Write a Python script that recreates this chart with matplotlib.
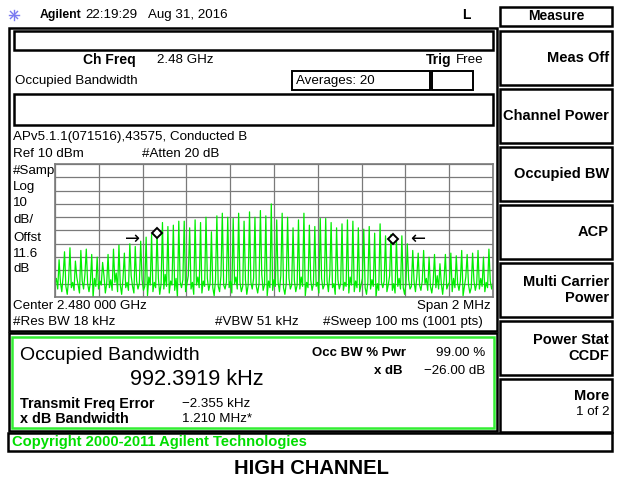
import numpy as np
import matplotlib.pyplot as plt
from matplotlib.patches import Rectangle

W, H = 621, 486

# spectrum (dBm); one level per spectral line, left to right
line_peaks_dbm = [
    -62, -56, -53, -63, -55, -54, -58, -60, -64, -58,
    -54, -51, -57, -50, -52, -48, -45, -43, -41, -34,
    -37, -36, -33, -33, -38, -32, -34, -30, -41, -29,
    -27, -30, -31, -27, -33, -26, -30, -25, -29, -20,
    -32, -27, -30, -38, -32, -27, -36, -37, -31, -31,
    -34, -38, -35, -32, -33, -38, -39, -37, -42, -35,
    -44, -43, -46, -44, -50, -55, -57, -55, -60, -58,
    -65, -58, -57, -59, -55, -58, -57, -55, -60, -54,
]
# noise floor between the lines (3 readings per gap, plus 3 after the last line)
floor_dbm = [
    -80, -76, -84, -79, -86, -74, -82, -88, -77, -83, -79, -85,
    -75, -81, -87, -78, -84, -73, -80, -86, -79, -90, -76, -82,
    -84, -78, -81, -74, -87, -80, -83, -77, -85, -79, -72, -86,
    -81, -88, -76, -83, -79, -85, -74, -82, -87, -78, -84, -80,
    -77, -85, -82, -89, -75, -81, -86, -79, -83, -76, -88, -80,
    -84, -73, -82, -87, -78, -81, -85, -76, -90, -79, -83, -77,
    -86, -80, -74, -84, -79, -88, -81, -75, -83, -87, -78, -82,
    -76, -85, -80, -83, -89, -77, -82, -86, -74, -81, -84, -79,
    -83, -78, -87, -80, -75, -84, -79, -86, -82, -77, -88, -81,
    -79, -84, -76, -82, -87, -80, -73, -85, -81, -89, -78, -83,
    -85, -77, -82, -79, -86, -74, -83, -88, -80, -76, -84, -81,
    -78, -86, -81, -84, -75, -82, -89, -79, -83, -77, -85, -80,
    -82, -79, -87, -76, -84, -81, -78, -86, -73, -83, -80, -88,
    -77, -84, -80, -85, -79, -82, -87, -75, -81, -86, -78, -83,
    -86, -81, -76, -83, -88, -79, -84, -77, -82, -90, -80, -85,
    -79, -83, -78, -86, -81, -74, -85, -80, -87, -82, -76, -84,
    -83, -88, -80, -77, -84, -82, -79, -86, -75, -81, -85, -78,
    -80, -76, -85, -82, -87, -79, -83, -74, -84, -80, -88, -77,
    -84, -81, -79, -86, -76, -83, -80, -85, -78, -89, -82, -75,
    -81, -87, -83, -78, -85, -80, -84, -76, -82, -86, -79, -83,
    -78, -84, -80,
]
obw_marker_mhz = [-0.533, 0.545]
obw_marker_dbm = [-42, -46.5]
xdb_arrow_mhz = [-0.645, 0.658]
xdb_arrow_dbm = -46.5

softkeys = [("Measure", 7, 26), ("Meas Off", 31, 85), ("Channel Power", 89, 143),
            ("Occupied BW", 147, 201), ("ACP", 205, 259), ("Multi Carrier\nPower", 263, 317),
            ("Power Stat\nCCDF", 321, 375), ("More", 379, 432)]

FONT = ['Liberation Sans', 'DejaVu Sans']
NS = 9.6   # normal screen text
BS = 10    # bold screen text

fig = plt.figure(figsize=(W / 100, H / 100), dpi=100)
ax0 = fig.add_axes([0, 0, 1, 1])
ax0.set_xlim(0, W)
ax0.set_ylim(H, 0)
ax0.axis('off')


def t(x, y, s, size=NS, bold=False, ha='left', color='black'):
    ax0.text(x, y, s, fontsize=size, fontweight='bold' if bold else 'normal',
             ha=ha, va='center', color=color, family=FONT, linespacing=1.1)


def box(x0, y0, x1, y1, lw=1.4, color='black'):
    ax0.add_patch(Rectangle((x0, y0), x1 - x0, y1 - y0, fill=False, lw=lw, ec=color))


# header
for a in np.linspace(0, np.pi, 4, endpoint=False):
    ax0.plot([14 - 5 * np.cos(a), 14 + 5 * np.cos(a)], [15 - 5 * np.sin(a), 15 + 5 * np.sin(a)],
             color='#7b7bf0', lw=1)
t(40, 15, "Agilent", 8.8, True)
t(85, 15, "22:19:29", NS)
t(148, 15, "Aug 31, 2016", NS)
t(462, 15, "L", BS, True)

# upper frame
box(9, 28, 497, 331, lw=1.8)
box(14, 31, 493, 50, lw=1.8)
t(83, 60, "Ch Freq", BS, True)
t(157, 60, "2.48 GHz", NS)
t(452, 60, "Trig", BS, True, ha='right')
t(456, 60, "Free", NS)
t(15, 81, "Occupied Bandwidth", NS)
box(292, 71, 430, 90, lw=1.4)
box(432, 71, 473, 90, lw=1.4)
t(296, 81, "Averages: 20", NS)
box(14, 94, 493, 125, lw=1.8)
t(13, 137, "APv5.1.1(071516),43575, Conducted B", NS)
t(13, 154, "Ref 10 dBm", NS)
t(142, 154, "#Atten 20 dB", NS)
for y, s in zip([170.5, 187, 203, 220, 238, 254, 269],
                ["#Samp", "Log", "10", "dB/", "Offst", "11.6", "dB"]):
    t(13, y, s, NS)
t(13, 306, "Center 2.480 000 GHz", NS)
t(491, 306, "Span 2 MHz", NS, ha='right')
t(13, 322, "#Res BW 18 kHz", NS)
t(215, 322, "#VBW 51 kHz", NS)
t(323, 322, "#Sweep 100 ms (1001 pts)", NS)

# result frame
box(9, 333, 497, 431, lw=1.8)
box(12, 337, 494, 428, lw=1.8, color='#33ee33')
t(20, 355, "Occupied Bandwidth", 14)
t(130, 379, "992.3919 kHz", 15.7)
t(312, 353, "Occ BW % Pwr", 9.5, True)
t(485, 353, "99.00 %", NS, ha='right')
t(402, 371, "x dB", 9.5, True, ha='right')
t(485, 371, "\u221226.00 dB", NS, ha='right')
t(20, 404, "Transmit Freq Error", 10.4, True)
t(182, 404, "\u22122.355 kHz", NS)
t(20, 419, "x dB Bandwidth", 10.4, True)
t(182, 419, "1.210 MHz*", NS)

box(8, 433, 612, 451, lw=1.8)
t(12, 442, "Copyright 2000-2011 Agilent Technologies", 10.6, True, color='#00dd00')
t(311, 468, "HIGH CHANNEL", 14.5, True, ha='center')

# softkeys
for name, y0, y1 in softkeys:
    box(500, y0, 612, y1, lw=1.8)
    if name == "Measure":
        t(556, (y0 + y1) / 2, name, BS, True, ha='center')
    elif name == "More":
        t(609, 396, name, 10.5, True, ha='right')
        t(609, 412, "1 of 2", NS, ha='right')
    else:
        t(609, (y0 + y1) / 2, name, 10.5, True, ha='right')

# spectrum
trace = []
for i, p in enumerate(line_peaks_dbm):
    trace += floor_dbm[3 * i:3 * i + 3]
    trace.append(p)
trace += floor_dbm[3 * len(line_peaks_dbm):]
freq = np.linspace(-1, 1, len(trace))

sax = fig.add_axes([55 / W, 1 - 297 / H, 438 / W, 133 / H])
sax.set_xlim(-1, 1)
sax.set_ylim(-90, 10)
sax.set_xticks(np.linspace(-1, 1, 11))
sax.set_yticks(np.arange(-90, 11, 10))
sax.tick_params(length=0, labelbottom=False, labelleft=False)
sax.grid(color='#7a7a7a', lw=0.9)
for s in sax.spines.values():
    s.set_color('#7a7a7a')
    s.set_linewidth(1.2)
sax.plot(freq, trace, color='#00ee00', lw=0.9)
sax.plot(obw_marker_mhz, obw_marker_dbm, ls='none', marker='D', ms=5.5,
         mfc='white', mec='black', mew=1.4)
sax.text(xdb_arrow_mhz[0], xdb_arrow_dbm, "\u2192", ha='center', va='center', fontsize=13)
sax.text(xdb_arrow_mhz[1], xdb_arrow_dbm, "\u2190", ha='center', va='center', fontsize=13)

fig.savefig("out.png", dpi=100)
